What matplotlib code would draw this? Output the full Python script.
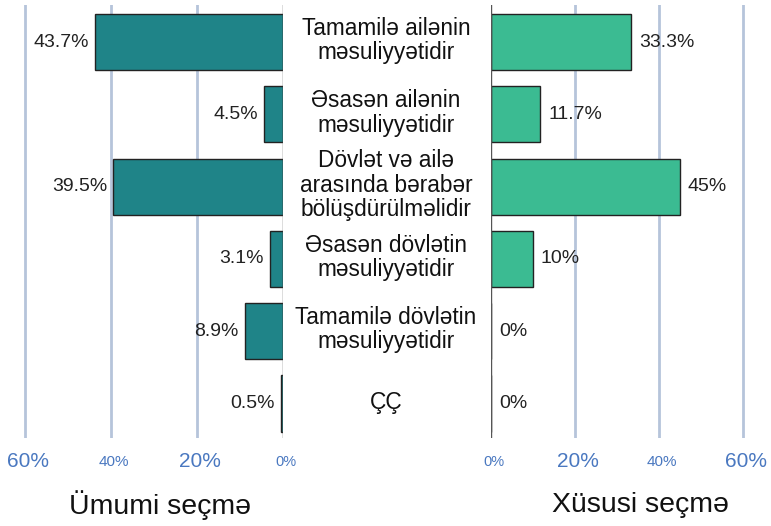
import matplotlib
matplotlib.use("Agg")
import matplotlib.pyplot as plt
from matplotlib.transforms import offset_copy, blended_transform_factory

plt.rcParams['font.family'] = ['Liberation Sans', 'DejaVu Sans']

categories = [
    "Tamamilə ailənin\nməsuliyyətidir",
    "Əsasən ailənin\nməsuliyyətidir",
    "Dövlət və ailə\narasında bərabər\nbölüşdürülməlidir",
    "Əsasən dövlətin\nməsuliyyətidir",
    "Tamamilə dövlətin\nməsuliyyətidir",
    "ÇÇ",
]
general_sample = [43.7, 4.5, 39.5, 3.1, 8.9, 0.5]
special_sample = [33.3, 11.7, 45, 10, 0, 0]
tick_values = [0, 20, 40, 60]
tick_labels = ["0%", "20%", "40%", "60%"]
tick_sizes = [10.5, 15, 11, 15]
panel_titles = ["Ümumi seçmə", "Xüsusi seçmə"]

W, H = 771, 526
fig = plt.figure(figsize=(W / 100, H / 100), dpi=100)

ax_bottom = (H - 438) / H
ax_height = (438 - 5) / H
ax1 = fig.add_axes([0, ax_bottom, 283 / W, ax_height])
ax2 = fig.add_axes([491 / W, ax_bottom, 280 / W, ax_height])

ypos = list(range(len(categories)))
grid_color = '#b6c4da'
tick_color = '#4a78c0'

for ax, vals, color, xmax, sign in [
    (ax1, general_sample, '#1f8488', 65.8, -1),
    (ax2, special_sample, '#3bbb92', 66.7, 1),
]:
    for t in tick_values[1:]:
        ax.axvline(t, color=grid_color, lw=2.0, zorder=0)
    ax.barh(ypos, vals, height=0.775, color=color, edgecolor='#222222',
            linewidth=1.0, zorder=2)
    ax.axvline(0, color='#555555', lw=1.0, zorder=3)
    ax.set_ylim(5.477, -0.512)
    if sign < 0:
        ax.set_xlim(xmax, 0)
    else:
        ax.set_xlim(0, xmax)
    for s in ax.spines.values():
        s.set_visible(False)
    ax.set_xticks([])
    ax.set_yticks([])
    ax.patch.set_alpha(0)

    # value labels
    if sign < 0:
        tr = offset_copy(ax.transData, fig=fig, x=-6, y=0, units='dots')
        ha = 'right'
    else:
        tr = offset_copy(ax.transData, fig=fig, x=8, y=0, units='dots')
        ha = 'left'
    for y, v in zip(ypos, vals):
        ax.text(v, y, f"{v:g}%", transform=tr, ha=ha, va='center',
                fontsize=14, color='#222222')

    # tick labels
    ttr = offset_copy(ax.get_xaxis_transform(), fig=fig, x=3, y=0, units='dots')
    for tv, tl, ts in zip(tick_values, tick_labels, tick_sizes):
        ax.text(tv, -0.0554, tl, transform=ttr, ha='center', va='center',
                fontsize=ts, color=tick_color)

# category labels in the middle
ctr = blended_transform_factory(fig.transFigure, ax1.transData)
for y, c in zip(ypos, categories):
    fig.text(386 / W, y - 0.02, c, transform=ctr, ha='center', va='center',
             fontsize=16.3, linespacing=1.08, color='#111111')

fig.text(160 / W, 1 - 505 / H, panel_titles[0], ha='center', va='center',
         fontsize=20.5, color='#111111')
fig.text(640 / W, 1 - 505 / H, panel_titles[1], ha='center', va='center',
         fontsize=20.5, color='#111111')

fig.savefig("out.png", dpi=100)
